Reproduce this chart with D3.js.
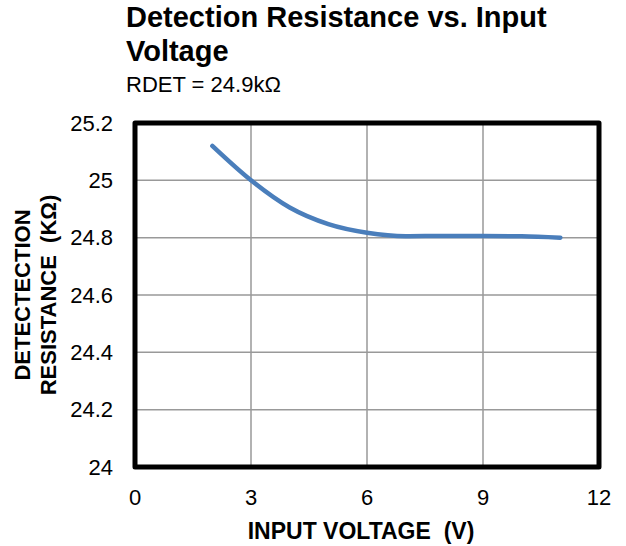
<!DOCTYPE html>
<meta charset="utf-8">
<style>
  body { margin: 0; background: #fff; }
  text { font-family: "Liberation Sans", Arial, sans-serif; fill: #000; }
</style>
<svg width="626" height="546"></svg>
<script src="https://d3js.org/d3.v7.min.js"></script>
<script>
  // input voltage (V) and detection resistance (kOhm)
  var voltage = [2, 3, 4, 5, 6, 7, 8, 9, 10, 11]
  var resistance = [25.12, 25.0, 24.905, 24.847, 24.817, 24.805, 24.806, 24.806, 24.805, 24.8]

  var xTicks = [0, 3, 6, 9, 12]
  var yTicks = [24, 24.2, 24.4, 24.6, 24.8, 25, 25.2]

  var svg = d3.select('svg')

  var plotLeft = 135, plotRight = 599, plotTop = 123, plotBottom = 467

  var x = d3.scaleLinear().domain([0, 12]).range([plotLeft, plotRight])
  var y = d3.scaleLinear().domain([24, 25.2]).range([plotBottom, plotTop])

  // titles
  svg.append('text')
    .attr('x', 126).attr('y', 27)
    .attr('font-size', 29).attr('font-weight', 'bold')
    .text('Detection Resistance vs. Input')
  svg.append('text')
    .attr('x', 126).attr('y', 61)
    .attr('font-size', 29).attr('font-weight', 'bold')
    .text('Voltage')
  svg.append('text')
    .attr('x', 126).attr('y', 92)
    .attr('font-size', 22)
    .text('RDET = 24.9kΩ')

  // grid
  svg.append('g')
    .selectAll('line')
    .data(xTicks.slice(1, -1))
    .enter().append('line')
    .attr('x1', d => x(d)).attr('x2', d => x(d))
    .attr('y1', plotTop).attr('y2', plotBottom)
    .attr('stroke', '#999').attr('stroke-width', 1.5)
  svg.append('g')
    .selectAll('line')
    .data(yTicks.slice(1, -1))
    .enter().append('line')
    .attr('x1', plotLeft).attr('x2', plotRight)
    .attr('y1', d => y(d)).attr('y2', d => y(d))
    .attr('stroke', '#999').attr('stroke-width', 1.5)

  // tick labels
  svg.append('g')
    .selectAll('text')
    .data(yTicks)
    .enter().append('text')
    .attr('x', 113).attr('y', d => y(d))
    .attr('dy', '0.35em')
    .attr('text-anchor', 'end')
    .attr('font-size', 22)
    .text(d => d3.format('~g')(d))
  svg.append('g')
    .selectAll('text')
    .data(xTicks)
    .enter().append('text')
    .attr('x', d => x(d)).attr('y', 505)
    .attr('text-anchor', 'middle')
    .attr('font-size', 22)
    .text(d => d)

  // axis titles
  svg.append('text')
    .attr('x', 361).attr('y', 539)
    .attr('text-anchor', 'middle')
    .attr('font-size', 23).attr('font-weight', 'bold')
    .attr('xml:space', 'preserve')
    .text('INPUT VOLTAGE  (V)')
  var yt = svg.append('text')
    .attr('transform', 'translate(30,' + (plotTop + plotBottom) / 2 + ') rotate(-90)')
    .attr('text-anchor', 'middle')
    .attr('font-size', 22).attr('font-weight', 'bold')
    .attr('xml:space', 'preserve')
  yt.append('tspan').attr('x', 0).attr('y', 0).text('DETECTECTION')
  yt.append('tspan').attr('x', 0).attr('y', 26).text('RESISTANCE  (KΩ)')

  // curve
  var line = d3.line()
    .x((d, i) => x(voltage[i]))
    .y(d => y(d))
    .curve(d3.curveMonotoneX)
  svg.append('path')
    .datum(resistance)
    .attr('d', line)
    .attr('fill', 'none')
    .attr('stroke', '#4a7ebb')
    .attr('stroke-width', 4.5)
    .attr('stroke-linecap', 'round')

  // frame
  svg.append('rect')
    .attr('x', plotLeft).attr('y', plotTop)
    .attr('width', plotRight - plotLeft).attr('height', plotBottom - plotTop)
    .attr('fill', 'none')
    .attr('stroke', '#000').attr('stroke-width', 5)
    .attr('stroke-linejoin', 'round')
</script>
